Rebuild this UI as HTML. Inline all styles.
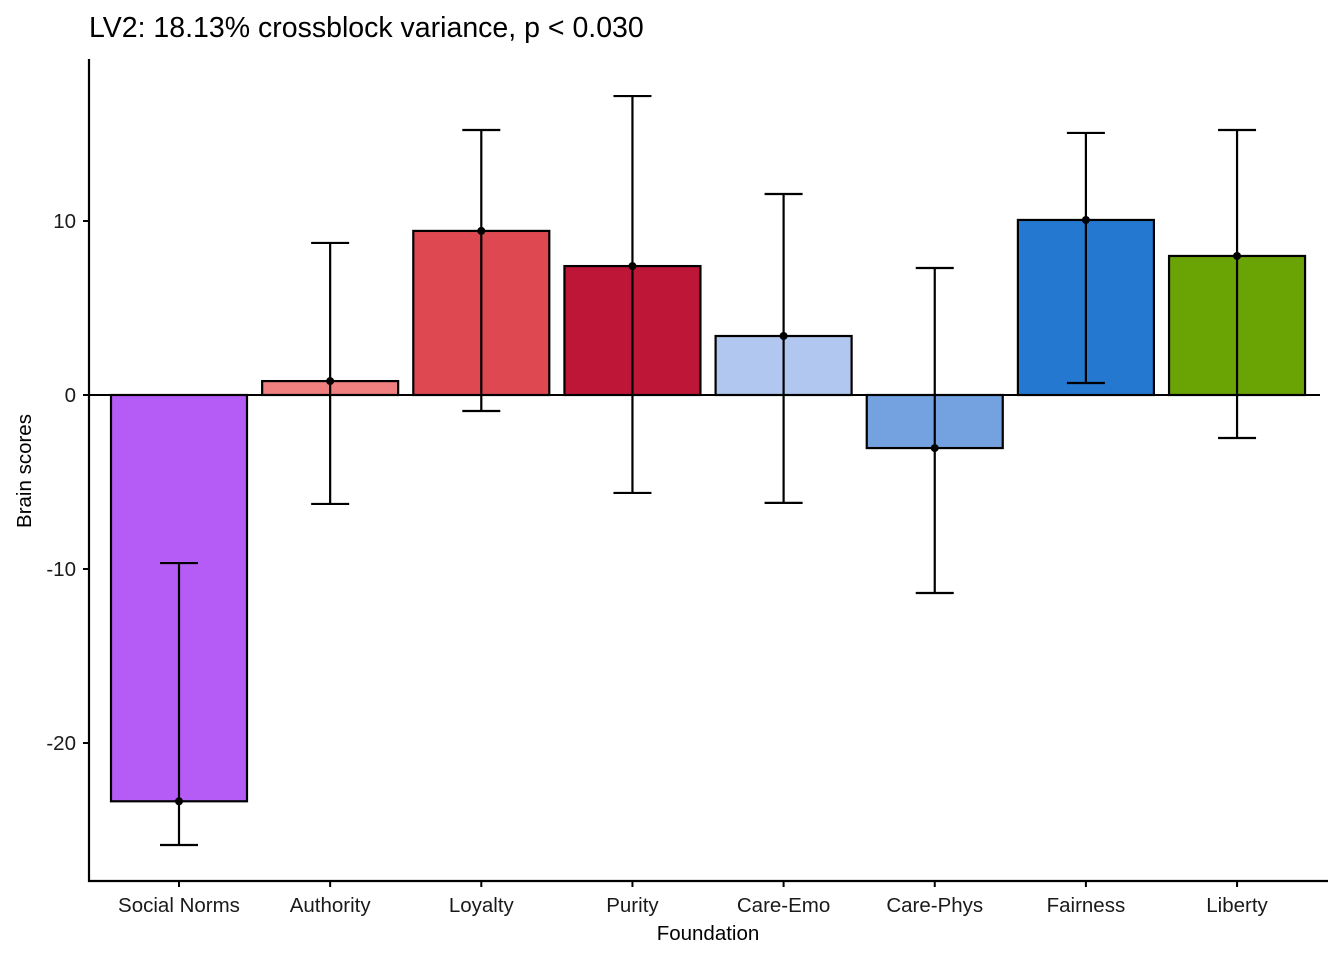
<!DOCTYPE html>
<html><head><meta charset="utf-8"><style>
body{margin:0;background:#fff;}
svg{display:block;font-family:"Liberation Sans",Arial,sans-serif;}
</style></head><body>
<svg id="chart" width="1344" height="960">
<text x="89" y="37" font-size="28.5" fill="#000">LV2: 18.13% crossblock variance, p &lt; 0.030</text>
<text transform="translate(31,471) rotate(-90)" text-anchor="middle" font-size="20.5">Brain scores</text>
<text x="708" y="940" text-anchor="middle" font-size="20.5">Foundation</text>
<g id="marks"></g>
</svg>
<script>
const categories=["Social Norms","Authority","Loyalty","Purity","Care-Emo","Care-Phys","Fairness","Liberty"];
const values=[-23.35,0.8,9.43,7.41,3.39,-3.05,10.06,7.99];
const upper=[-9.66,8.74,15.23,17.18,11.55,7.3,15.06,15.23];
const lower=[-25.86,-6.26,-0.92,-5.63,-6.2,-11.38,0.69,-2.47];
const colors=["#B45CF5","#F07F7F","#DE4850","#BE1637","#B2C7F0","#74A2E0","#2578D0","#6AA304"];
const yTicks=[10,0,-10,-20];
const yTickLabels=["10","0","-10","-20"];
const NS="http://www.w3.org/2000/svg";
const g=document.getElementById('marks');
const y=v=>395-v*17.4;
const x=i=>179+i*151.15;
const bw=136;
function mk(t,a){const e=document.createElementNS(NS,t);for(const k in a)e.setAttribute(k,a[k]);g.appendChild(e);return e;}
categories.forEach((c,i)=>{
 const v=values[i];
 const r=mk('rect',{x:x(i)-bw/2,y:Math.min(y(v),y(0)),width:bw,height:Math.abs(y(v)-y(0)),fill:colors[i],stroke:'#000','stroke-width':2.2});
 
 
});
const zl=mk('line',{x1:89,x2:1320,y1:y(0),y2:y(0),stroke:'#000','stroke-width':2});


categories.forEach((c,i)=>{
 const cx=x(i);
 const eb=mk('path',{d:`M${cx-19},${y(upper[i])}H${cx+19}M${cx},${y(upper[i])}V${y(lower[i])}M${cx-19},${y(lower[i])}H${cx+19}`,stroke:'#000','stroke-width':2.2,fill:'none'});
 
 
 const p=mk('circle',{cx:cx,cy:y(values[i]),r:4,fill:'#000'});
 
 
 mk('line',{x1:cx,x2:cx,y1:881,y2:887,stroke:'#000','stroke-width':2});
 const t=mk('text',{x:cx,y:912,'text-anchor':'middle','font-size':20.5,fill:'#1a1a1a'});
 t.textContent=c;
 
 
});
yTicks.forEach((v,i)=>{
 mk('line',{x1:83,x2:89,y1:y(v),y2:y(v),stroke:'#000','stroke-width':2});
 const t=mk('text',{x:76,y:y(v)+7,'text-anchor':'end','font-size':20.5,fill:'#1a1a1a'});
 t.textContent=yTickLabels[i];
 
 
});
const ax=mk('path',{d:'M89,59V881H1328',stroke:'#000','stroke-width':2.2,fill:'none'});


</script>
</body></html>
